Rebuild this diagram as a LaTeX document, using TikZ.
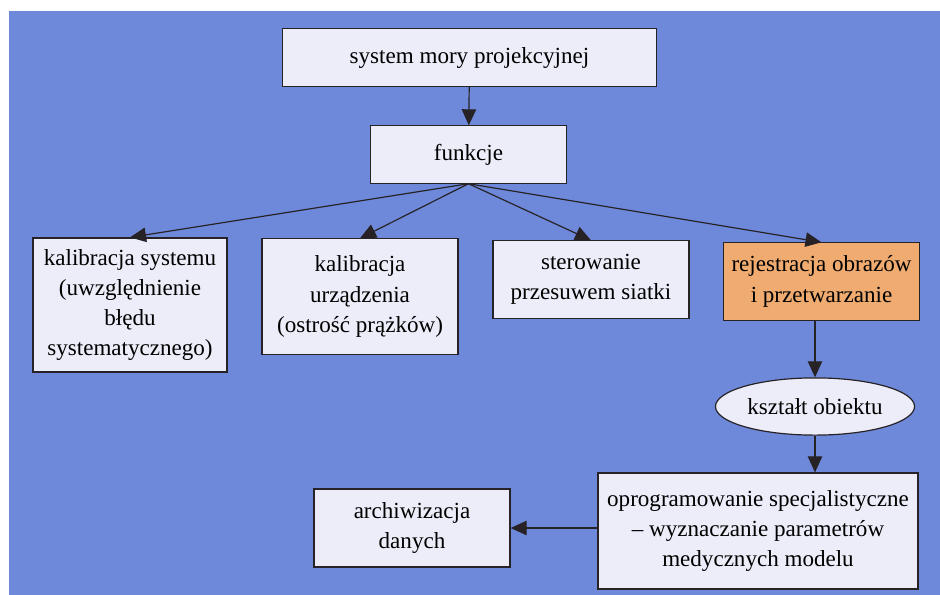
\documentclass[tikz,border=0pt]{standalone}
\usepackage{fontspec}
\setmainfont{Liberation Serif}
\usetikzlibrary{arrows.meta,shapes.geometric}
\definecolor{bgblue}{RGB}{111,137,218}
\definecolor{boxfill}{RGB}{236,237,248}
\definecolor{boxorange}{RGB}{239,171,112}
\definecolor{linegray}{RGB}{38,34,38}
\tikzset{%
    >={Triangle[length=4mm,width=3.6mm]}, % big filled arrow heads
    box/.style 2 args={draw=linegray,line width=0.85pt,fill=boxfill,align=center,
        inner sep=2pt,minimum width=#1,minimum height=#2,
        font=\fontsize{16.4}{21.5}\selectfont},%
    oval/.style 2 args={box={#1}{#2},ellipse},%
    link/.style={->,draw=linegray,line width=0.85pt}%
}

\begin{document}
\begin{tikzpicture}[x=0.025cm,y=-0.025cm] % 1 unit = 1 pixel of the scan

    \useasboundingbox (0,0) rectangle (940,594);
    \fill[bgblue] (9,11) rectangle (945,599); % blue sheet, runs off the page

    % top of the tree
    \node[box={9.33cm}{1.43cm}] (system) at (469.5,57.5) {system mory projekcyjnej};
    \node[box={4.88cm}{1.43cm}] (funkcje) at (468.5,154.5) {funkcje};

    % the four functions
    \node[box={4.85cm}{3.35cm}] (kalsys) at (130,305)
        {kalibracja systemu\\(uwzględnienie\\błędu\\systematycznego)};
    \node[box={4.9cm}{2.88cm}] (kalurz) at (360,296.5)
        {kalibracja\\urządzenia\\(ostrość prążków)};
    \node[box={4.9cm}{1.93cm}] (sterowanie) at (591,279.5)
        {sterowanie\\przesuwem siatki};
    \node[box={4.88cm}{1.93cm},fill=boxorange] (rejestracja) at (821.5,281.5)
        {rejestracja obrazów\\i przetwarzanie};

    % processing chain
    \node[oval={4.8cm}{1.43cm}] (ksztalt) at (815,406.5) {kształt obiektu};
    \node[box={8cm}{2.9cm}] (oprog) at (758,531)
        {oprogramowanie specjalistyczne\\– wyznaczanie parametrów\\medycznych modelu};
    \node[box={4.9cm}{1.95cm}] (archiwum) at (412,528) {archiwizacja\\danych};

    \draw[link] (system) -- (funkcje);
    \foreach \target in {kalsys,kalurz,sterowanie,rejestracja}
        \draw[link] (funkcje.south) -- (\target.north);
    \draw[link] (rejestracja.south -| ksztalt.north) -- (ksztalt.north);
    \draw[link] (ksztalt.south) -- (ksztalt.south |- oprog.north);
    \draw[link] (archiwum.east -| oprog.west) -- (archiwum.east);

\end{tikzpicture}
\end{document}
